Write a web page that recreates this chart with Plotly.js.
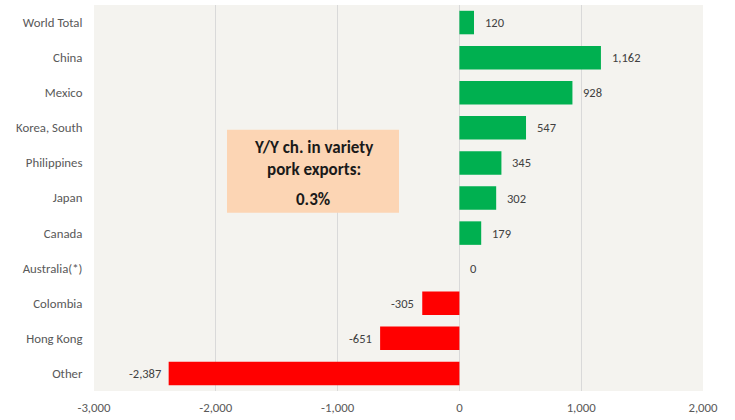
<!DOCTYPE html>
<html><head><meta charset="utf-8">
<script src="https://cdn.plot.ly/plotly-3.0.1.min.js"></script>
<style>body{margin:0;background:#fff}#c{width:735px;height:420px}</style>
</head><body><div id="c"></div>
<script>
const categories = ["World Total","China","Mexico","Korea, South","Philippines","Japan","Canada","Australia(*)","Colombia","Hong Kong","Other"];
const values = [120,1162,928,547,345,302,179,0,-305,-651,-2387];
const boxLines = "<b>Y/Y ch. in variety<br>pork exports:</b>";
const boxValue = "<b>0.3%</b>";

const colors = values.map(v => v >= 0 ? "#00B050" : "#FF0000");
const fmt = v => v.toLocaleString("en-US");
const font = "Carlito, Lato, 'Open Sans', sans-serif";

const traces = [
  {type:"bar", orientation:"h", x:values, y:categories, marker:{color:colors}, width:0.67, hoverinfo:"none"}
];

const labelAnns = values.map((v,i)=>({
  xref:"x", yref:"y", x:v, y:categories[i], text:fmt(v), showarrow:false,
  xanchor: v>=0 ? "left" : "right", xshift: v>=0 ? 9 : -6,
  font:{size:12.5, color:"#404040", family:font}
}));

const layout = {
  width:735, height:420, showlegend:false,
  margin:{l:94, r:32, t:5, b:29},
  paper_bgcolor:"#ffffff", plot_bgcolor:"#F4F3EF",
  font:{family:font, color:"#595959", size:12.8},
  xaxis:{range:[-3000,2000], tickvals:[-3000,-2000,-1000,0,1000,2000], ticktext:["-3,000","-2,000","-1,000","0","1,000","2,000"],
    showgrid:true, gridcolor:"#D9D9D9", gridwidth:1, zeroline:true, zerolinecolor:"#D9D9D9", zerolinewidth:1,
    ticks:"outside", ticklen:5, tickcolor:"rgba(0,0,0,0)", showline:false, fixedrange:true},
  yaxis:{categoryorder:"array", categoryarray:categories, autorange:"reversed",
    ticks:"outside", ticklen:8, tickcolor:"rgba(0,0,0,0)", showgrid:false, zeroline:false, fixedrange:true},
  shapes:[{type:"rect", xref:"x", yref:"paper", x0:-1908, x1:-496, y0:0.462, y1:0.677, fillcolor:"#FCD5B4", line:{width:0}, layer:"above"}],
  annotations:[
    {xref:"x", yref:"paper", x:-1202, y:0.602, text:boxLines, showarrow:false,
      font:{size:17, color:"#1a1a1a", family:font}, align:"center"},
    {xref:"x", yref:"paper", x:-1202, y:0.497, text:boxValue, showarrow:false,
      font:{size:17, color:"#1a1a1a", family:font}, align:"center"}
  ].concat(labelAnns)
};
Plotly.newPlot("c", traces, layout, {displayModeBar:false, staticPlot:true});
</script></body></html>
